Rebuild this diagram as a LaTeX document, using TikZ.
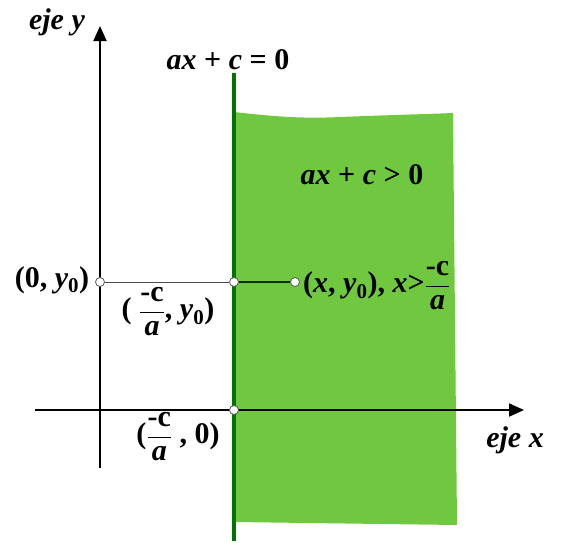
\documentclass[tikz,border=0pt]{standalone}
\usepackage{fontspec}
\setmainfont{Liberation Serif}
\usetikzlibrary{arrows.meta}
\newcommand\bi[1]{\textbf{\textit{#1}}}
\newcommand\yzero{\bi{y}\textsubscript{\textbf{0}}}
\newcommand\mcfrac{$\displaystyle\frac{\mbox{\textbf{-c}}}{\mbox{\bi{a}}}$}
\begin{document}
\begin{tikzpicture}[x=1pt,y=-1pt,
  lbl/.style={font=\fontsize{30}{32}\selectfont\bfseries, inner sep=1pt},
  axis/.style={line width=2pt, -{Triangle[length=15pt,width=13pt]}},
  dot/.style={circle, draw=gray!70!black, fill=white, line width=0.8pt, minimum size=9pt, inner sep=0pt},
  gline/.style={draw=green!45!black, line width=4pt},
  greenfill/.style={fill={rgb,255:red,112;green,200;blue,64}}]
\useasboundingbox (0,0) rectangle (563,542);
% green half-plane
\fill[greenfill] (234,112) .. controls (270,116) and (300,119) .. (340,117)
  .. controls (390,115) and (430,114) .. (453,113) -- (457,525) -- (234,522) -- cycle;
% coordinates
\coordinate (ybot) at (100,468);
\coordinate (ytop) at (100,26);
\coordinate (xleft) at (35,410);
\coordinate (xright) at (524,410);
\coordinate (gtop) at (234,73);
\coordinate (gbot) at (234,541);
% axes
\draw[axis] (ybot) -- (ytop);
\draw[axis] (xleft) -- (xright);
% boundary line
\draw[gline] (gtop) -- (gbot);
% points
\node[dot] (p0) at (100,282) {};
\node[dot] (p1) at (234,282) {};
\node[dot] (p2) at (295,282) {};
\node[dot] (p3) at (234,410) {};
\draw[line width=1pt, draw=gray!60!black] (p0) -- (p1);
\draw[line width=1.2pt, draw=black!80!green] (p1) -- (p2);
% labels
\node[lbl] (ejey) at (57,22) {\bi{eje y}};
\node[lbl] (eq) at (228,60) {\bi{ax} + \bi{c} = 0};
\node[lbl] (ineq) at (362,175) {\bi{ax} + \bi{c} > 0};
\node[lbl] (l0) at (52,280) {(0, \yzero)};
\node[lbl] (l1) at (168,312) {( \mcfrac, \yzero)};
\node[lbl, anchor=west] (l2) at (302,286) {(\bi{x}, \yzero), \bi{x}>\mcfrac};
\node[lbl] (l3) at (178,437) {(\mcfrac\ , 0)};
\node[lbl] (ejex) at (515,440) {\bi{eje x}};
\end{tikzpicture}
\end{document}
